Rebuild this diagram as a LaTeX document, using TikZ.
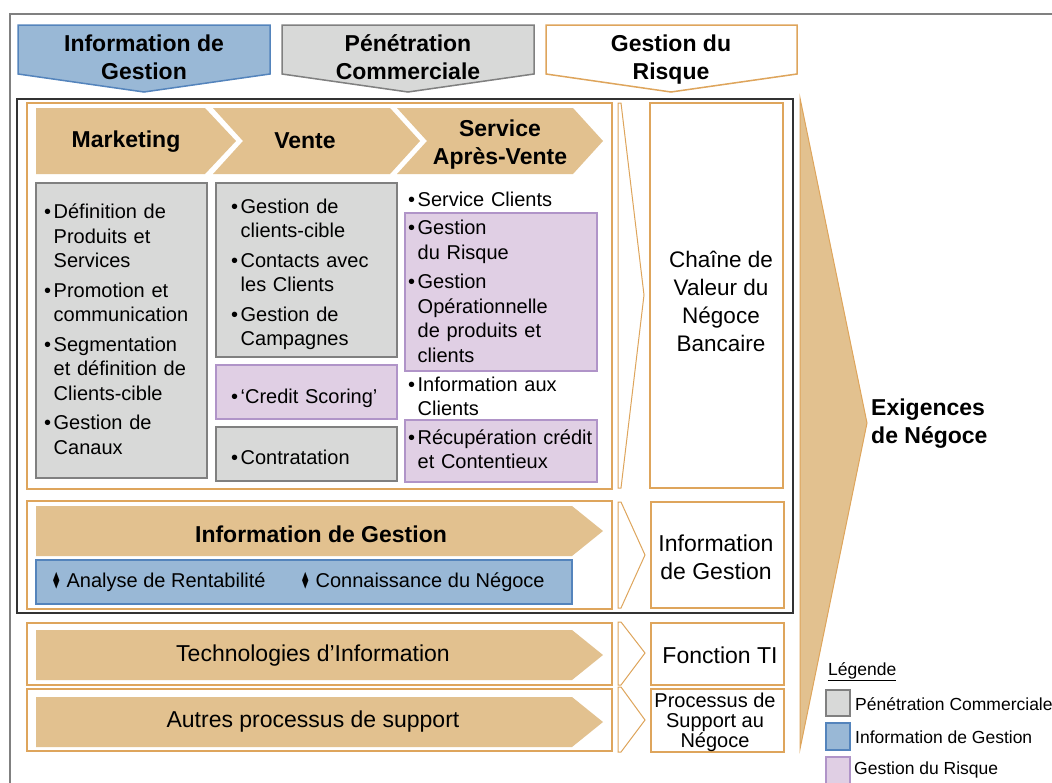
\documentclass[tikz,border=0pt]{standalone}
\usepackage{fontspec}
\setmainfont{Liberation Sans}
\newfontfamily\symfont{DejaVu Sans}
\usepackage{graphicx}
\usetikzlibrary{positioning}
\definecolor{chevronfill}{RGB}{226,193,143}
\definecolor{orangeline}{RGB}{222,165,92}
\definecolor{grayfill}{RGB}{216,217,216}
\definecolor{grayline}{RGB}{128,128,128}
\definecolor{bluefill}{RGB}{153,184,214}
\definecolor{blueline}{RGB}{84,132,188}
\definecolor{purplefill}{RGB}{224,207,228}
\definecolor{purpleline}{RGB}{176,148,200}
\newcommand{\bitem}[1]{\par\hangindent=9.5pt\hangafter=1\noindent\makebox[9.5pt][l]{\textbullet}#1\par}
\newcommand{\arrbul}{\raisebox{0.5pt}{\symfont\fontsize{22}{22}\selectfont\scalebox{0.38}[1]{◆}}\hspace{7pt}}

\begin{document}
\begin{tikzpicture}[x=1pt, y=-1pt,
	chevron/.style={fill=chevronfill, draw=none},
	orangebox/.style={draw=orangeline, line width=1.2pt, fill=white},
	graybox/.style={draw=grayline, fill=grayfill, line width=1.5pt},
	purplebox/.style={draw=purpleline, fill=purplefill, line width=1.5pt},
	bluebox/.style={draw=blueline, fill=bluefill, line width=1.5pt},
	thinarrow/.style={draw=orangeline, line width=1pt, fill=white},
	headtext/.style={font=\bfseries\fontsize{23}{28}\selectfont, align=center, inner sep=0pt},
	plaintext/.style={font=\fontsize{23}{28}\selectfont, align=center, inner sep=0pt},
	bodytext/.style={font=\fontsize{20}{24.5}\selectfont, align=left, inner sep=0pt, anchor=west,
		execute at begin node={\setlength{\parskip}{5pt}}},
	legendtext/.style={font=\fontsize{17.5}{20}\selectfont, inner sep=0pt, anchor=west}]
	\useasboundingbox (0,0) rectangle (1052,782);
	% cadre exterieur
	\draw[grayline, line width=2pt] (10,790) -- (10,14) -- (1060,14);
	% en-tetes
	\draw[bluebox] (18,25) -- (270,25) -- (270,74) -- (144,92) -- (18,74) -- cycle;
	\node[headtext] (hdinfo) at (144,57) {Information de\\Gestion};
	\draw[graybox] (282,25) -- (534,25) -- (534,74) -- (408,92) -- (282,74) -- cycle;
	\node[headtext] (hdpen) at (408,57) {Pénétration\\Commerciale};
	\draw[orangebox, line width=1.5pt] (546,25) -- (797,25) -- (797,74) -- (671,92) -- (546,74) -- cycle;
	\node[headtext] (hdrisk) at (671,60) {Gestion du\\Risque};
	% grande fleche
	\draw[orangeline, fill=chevronfill, line width=1pt] (800,98) -- (867,423) -- (800,749) -- cycle;
	\node[headtext, align=left, anchor=west] (exig) at (871,424) {Exigences\\de Négoce};
	% bloc principal
	\draw[black!80, line width=1.2pt] (17,99) rectangle (793,613);
	\draw[orangebox] (27,103) rectangle (612,489);
	\draw[chevron] (36,108) -- (205,108) -- (236,141) -- (205,174) -- (36,174) -- cycle;
	\draw[chevron] (213,108) -- (390,108) -- (420,141) -- (390,174) -- (213,174) -- (243,141) -- cycle;
	\draw[chevron] (397,108) -- (573,108) -- (603,141) -- (573,174) -- (397,174) -- (427,141) -- cycle;
	\node[headtext] (mkt) at (126,142) {Marketing};
	\node[headtext] (vente) at (305,141) {Vente};
	\node[headtext] (sav) at (500,145) {Service\\Après-Vente};
	% marketing
	\draw[graybox] (36,183) rectangle (207,478);
	\node[bodytext, text width=160pt] (mkttxt) at (44,322) {\bitem{Définition de\newline Produits et\newline Services}\bitem{Promotion et\newline communication}\bitem{Segmentation\newline et définition de\newline Clients-cible}\bitem{Gestion de\newline Canaux}};
	% vente
	\draw[graybox] (216,183) rectangle (397,357);
	\node[bodytext, text width=160pt] (ventetxt) at (231,267) {\bitem{Gestion de\newline clients-cible}\bitem{Contacts avec\newline les Clients}\bitem{Gestion de\newline Campagnes}};
	\draw[purplebox] (216,365) rectangle (397,419);
	\node[bodytext, text width=170pt] (scoring) at (231,391) {\bitem{‘Credit Scoring’}};
	\draw[graybox] (216,427) rectangle (397,481);
	\node[bodytext, text width=160pt] (contrat) at (231,450) {\bitem{Contratation}};
	% service apres-vente
	\node[bodytext, text width=180pt] (srvcli) at (408,192) {\bitem{Service Clients}};
	\draw[purplebox] (405,213) rectangle (597,371);
	\node[bodytext, text width=185pt] (risque) at (408,284) {\bitem{Gestion\newline du Risque}\bitem{Gestion\newline Opérationnelle\newline de produits et\newline clients}};
	\node[bodytext, text width=180pt] (infocli) at (408,389) {\bitem{Information aux\newline Clients}};
	\draw[purplebox] (405,420) rectangle (597,482);
	\node[bodytext, text width=190pt] (recup) at (408,442) {\bitem{Récupération crédit\newline et Contentieux}};
	\draw[thinarrow] (618,103) -- (621,103) -- (644,295) -- (621,488) -- (618,488) -- cycle;
	\draw[orangebox] (650,103) rectangle (783,488);
	\node[plaintext, font=\fontsize{22.5}{28}\selectfont] (chaine) at (721,301) {Chaîne de\\Valeur du\\Négoce\\Bancaire};
	% information de gestion
	\draw[orangebox] (27,501) rectangle (612,609);
	\draw[chevron] (36,506) -- (572,506) -- (603,531) -- (572,556) -- (36,556) -- cycle;
	\node[headtext] (infogest) at (321,534) {Information de Gestion};
	\draw[bluebox] (36,560) rectangle (572,604);
	\node[bodytext] (rentab) at (53,582) {\arrbul Analyse de Rentabilité};
	\node[bodytext] (connais) at (302,582) {\arrbul Connaissance du Négoce};
	\draw[thinarrow] (618,502) -- (621,502) -- (645,555) -- (621,608) -- (618,608) -- cycle;
	\draw[orangebox] (651,502) rectangle (784,608);
	\node[plaintext] (infogest2) at (716,557) {Information\\de Gestion};
	% technologies
	\draw[orangebox] (27,623) rectangle (612,685);
	\draw[chevron] (36,630) -- (572,630) -- (603,655) -- (572,680) -- (36,680) -- cycle;
	\node[plaintext] (techno) at (313,656) {Technologies d’Information};
	\draw[thinarrow] (618,622) -- (621,622) -- (645,653) -- (621,685) -- (618,685) -- cycle;
	\draw[orangebox] (651,623) rectangle (784,685);
	\node[plaintext] (fonctionti) at (720,655) {Fonction TI};
	% support
	\draw[orangebox] (27,689) rectangle (612,751);
	\draw[chevron] (36,697) -- (572,697) -- (603,722) -- (572,747) -- (36,747) -- cycle;
	\node[plaintext] (autres) at (313,722) {Autres processus de support};
	\draw[thinarrow] (618,687) -- (621,687) -- (645,720) -- (621,752) -- (618,752) -- cycle;
	\draw[orangebox] (651,689) rectangle (784,752);
	\node[plaintext, font=\fontsize{20}{20}\selectfont] (processus) at (715,722) {Processus de\\Support au\\Négoce};
	% legende
	\node[legendtext] (legende) at (828,672) {\underline{Légende}};
	\draw[graybox] (826,690) rectangle (850,716);
	\node[legendtext] (legpen) at (855,704) {Pénétration Commerciale};
	\draw[bluebox] (826,723) rectangle (850,750);
	\node[legendtext] (leginfo) at (855,737) {Information de Gestion};
	\draw[purplebox] (826,757) rectangle (850,790);
	\node[legendtext] (legrisk) at (854,770) {Gestion du Risque};
\end{tikzpicture}
\end{document}
